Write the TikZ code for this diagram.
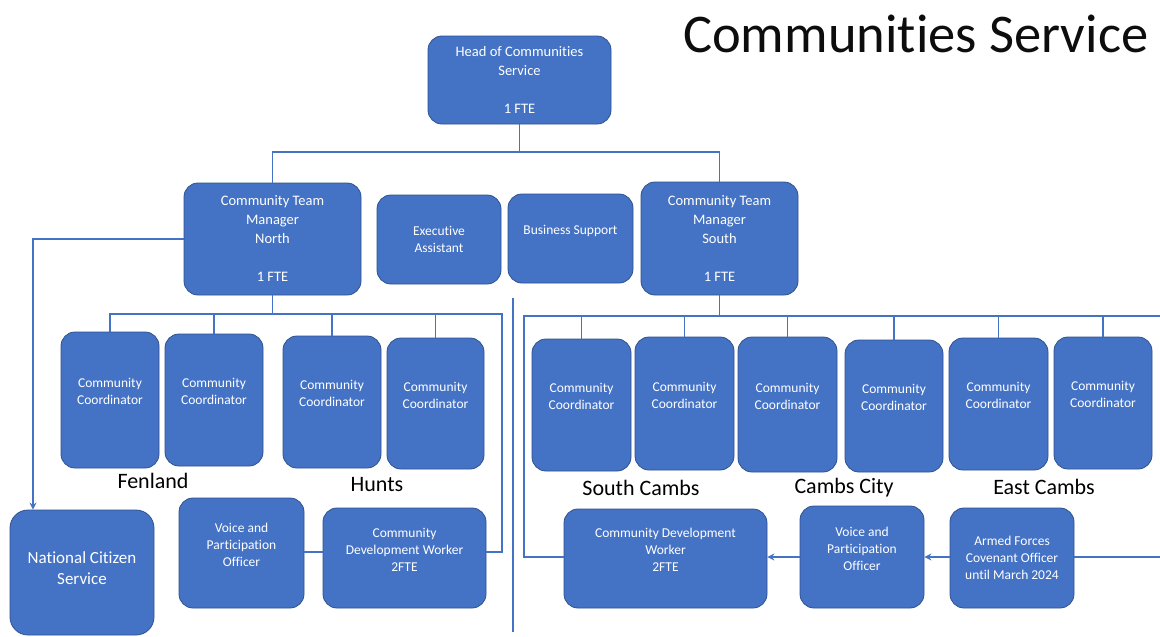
\documentclass[tikz,border=0pt]{standalone}
\usepackage{fontspec}
\setmainfont{Carlito}[Ligatures=NoCommon]
\usetikzlibrary{arrows.meta}
\definecolor{boxblue}{HTML}{4472C4}
\definecolor{boxedge}{HTML}{2F528F}
\definecolor{linkblue}{HTML}{4472C4}
\begin{document}
\begin{tikzpicture}[x=1pt,y=-1pt,
  box/.style={draw=boxedge, fill=boxblue, rounded corners=14pt, text=white, align=center, inner sep=2pt, line width=0.8pt},
  mgr/.style={box, font=\fontsize{14.5}{19}\selectfont},
  std/.style={box, font=\fontsize{13.5}{17}\selectfont},
  conn/.style={draw=linkblue, line width=1.7pt},
  arr/.style={conn, -{Stealth[length=7pt,width=7pt]}},
  area/.style={font=\fontsize{22}{26}\selectfont, text=black}]
\useasboundingbox (0,0) rectangle (1160,637);
\fill[white] (0,0) rectangle (1160,637);

% title
\node[anchor=base west, font=\fontsize{54.5}{60}\selectfont, text=black!95, inner sep=0] (title) at (683,52) {Communities Service};

% top level
\node[mgr, minimum width=183pt, minimum height=88pt] (head) at (519.5,80) {Head of Communities\\Service\\\mbox{}\\1 FTE};
\node[mgr, minimum width=177pt, minimum height=112pt] (north) at (272.5,239) {Community Team\\Manager\\North\\\mbox{}\\1 FTE};
\node[std, minimum width=124pt, minimum height=89pt] (exec) at (439,239.5) {Executive\\Assistant};
\node[std, minimum width=125pt, minimum height=89pt] (bsup) at (570.5,238.5) {Business Support\\\mbox{}};
\node[mgr, minimum width=157pt, minimum height=113pt] (south) at (719.5,238.5) {Community Team\\Manager\\South\\\mbox{}\\1 FTE};

% north coordinators
\node[std, minimum width=98pt, minimum height=136pt] (cn1) at (110,400) {Community\\Coordinator\\\mbox{}};
\node[std, minimum width=98pt, minimum height=132pt] (cn2) at (214,400) {Community\\Coordinator\\\mbox{}};
\node[std, minimum width=98pt, minimum height=132pt] (cn3) at (332,402) {Community\\Coordinator\\\mbox{}};
\node[std, minimum width=97pt, minimum height=131pt] (cn4) at (435.5,403.5) {Community\\Coordinator\\\mbox{}};

% south coordinators
\node[std, minimum width=99pt, minimum height=132pt] (cs1) at (581.5,405) {Community\\Coordinator\\\mbox{}};
\node[std, minimum width=99pt, minimum height=133pt] (cs2) at (684.5,403.5) {Community\\Coordinator\\\mbox{}};
\node[std, minimum width=99pt, minimum height=135pt] (cs3) at (787.5,404.5) {Community\\Coordinator\\\mbox{}};
\node[std, minimum width=98pt, minimum height=132pt] (cs4) at (894,406) {Community\\Coordinator\\\mbox{}};
\node[std, minimum width=99pt, minimum height=132pt] (cs5) at (998.5,404) {Community\\Coordinator\\\mbox{}};
\node[std, minimum width=98pt, minimum height=132pt] (cs6) at (1103,403) {Community\\Coordinator\\\mbox{}};

% area labels
\node[area] (fen) at (153,481) {Fenland};
\node[area] (hunts) at (377,485) {Hunts};
\node[area] (scam) at (641,488) {South Cambs};
\node[area] (ccity) at (844,488) {Cambs City};
\node[area] (ecam) at (1044,487) {East Cambs};

% bottom row
\node[box, font=\fontsize{17}{21}\selectfont, minimum width=144pt, minimum height=125pt, rounded corners=18pt] (ncs) at (82,572.5) {National Citizen\\Service\\[-12pt]\mbox{}};
\node[std, minimum width=125pt, minimum height=110pt] (vpon) at (241.5,553) {Voice and\\Participation\\Officer\\\mbox{}};
\node[std, minimum width=163pt, minimum height=100pt] (cdwn) at (404.5,558) {Community\\Development Worker\\2FTE\\\mbox{}};
\node[std, minimum width=203pt, minimum height=99pt] (cdws) at (665.5,558.5) {Community Development\\Worker\\2FTE\\\mbox{}};
\node[std, minimum width=124pt, minimum height=102pt] (vpos) at (862,557) {Voice and\\Participation\\Officer\\\mbox{}};
\node[std, minimum width=124pt, minimum height=100pt] (af) at (1012,558) {Armed Forces\\Covenant Officer\\until March 2024};

% helper coordinates
\coordinate (tb) at (0,152);
\coordinate (nb) at (0,314);
\coordinate (sb) at (0,316);
\coordinate (nx) at (33,0);
\coordinate (nr) at (502,0);
\coordinate (nl) at (0,552);
\coordinate (sl) at (524,0);
\coordinate (sr) at (1164,0);
\coordinate (al) at (0,557);

% head to managers
\draw[conn] (head.south) -- (head.south |- tb) -| (north.north);
\draw[conn] (head.south) -- (head.south |- tb) -| (south.north);

% north
\draw[arr] (north.west) -| (nx |- ncs.north);
\foreach \c in {cn1,cn2,cn3,cn4}
  \draw[conn] (north.south) -- (north.south |- nb) -| (\c.north);
\draw[conn] (north.south) -- (north.south |- nb) -| (nr |- nl) -- (cdwn.east |- nl);
\draw[conn] (vpon.east |- nl) -- (cdwn.west |- nl);

% south
\foreach \c in {cs1,cs2,cs3,cs4,cs5,cs6}
  \draw[conn] (south.south) -- (south.south |- sb) -| (\c.north);
\draw[conn] (south.south) -- (south.south |- sb) -| (sl |- al) -- (cdws.west |- al);
\draw[conn] (south.south) -- (south.south |- sb) -| (sr |- al) -- (af.east |- al);
\draw[arr] (af.west |- al) -- (vpos.east |- al);
\draw[arr] (vpos.west |- al) -- (cdws.east |- al);

% divider
\draw[draw=linkblue, line width=1.2pt] (513,298) -- (513,632);
\end{tikzpicture}
\end{document}
